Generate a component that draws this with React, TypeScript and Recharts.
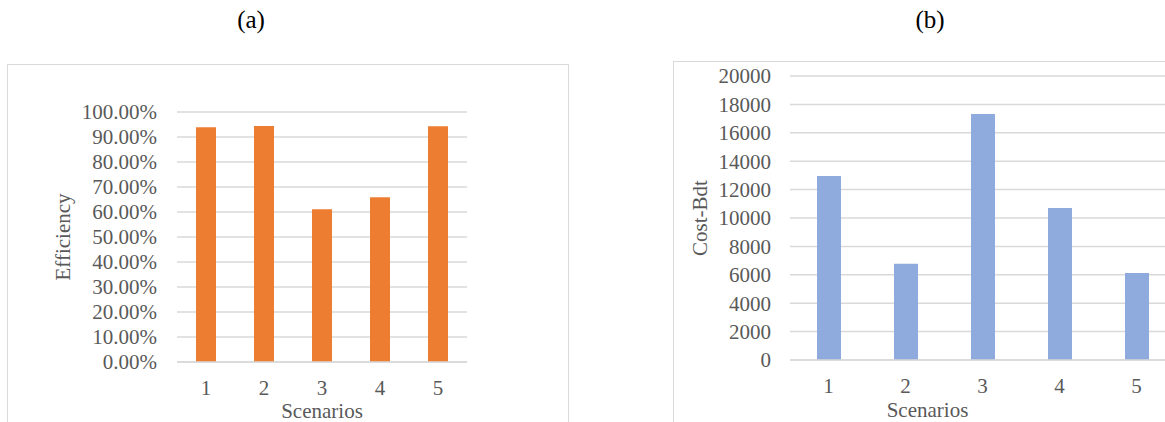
import { BarChart, Bar, XAxis, YAxis, CartesianGrid, Label } from 'recharts';

const scenarios = ['1', '2', '3', '4', '5'];
const efficiency = [0.939, 0.944, 0.611, 0.659, 0.943];
const cost = [12950, 6780, 17330, 10700, 6120];
const efficiencyTicks = [0, 0.1, 0.2, 0.3, 0.4, 0.5, 0.6, 0.7, 0.8, 0.9, 1];
const costTicks = [0, 2000, 4000, 6000, 8000, 10000, 12000, 14000, 16000, 18000, 20000];

const effData = scenarios.map((s, i) => ({ scenario: s, value: efficiency[i] }));
const costData = scenarios.map((s, i) => ({ scenario: s, value: cost[i] }));

const FONT = '"Liberation Serif", "Times New Roman", serif';
const GRID = '#D9D9D9';
const TEXT = '#595959';
const tickStyle = { fontSize: 21, fill: TEXT, fontFamily: FONT };

// axis titles drawn from the axis viewBox so the font sticks
const xTitle = (text: string, dx: number, baseline: number) => (props: any) => {
	const vb = props.viewBox;
	return (
		<text x={vb.x + vb.width / 2 + dx} y={vb.y + vb.height - baseline} textAnchor="middle" style={tickStyle}>
			{text}
		</text>
	);
};

const yTitle = (text: string, dx: number) => (props: any) => {
	const vb = props.viewBox;
	const cx = vb.x + vb.width / 2 + dx;
	const cy = vb.y + vb.height / 2;
	return (
		<text x={cx} y={cy} textAnchor="middle" dominantBaseline="central" transform={`rotate(-90, ${cx}, ${cy})`} style={tickStyle}>
			{text}
		</text>
	);
};

export default function App() {
	return (
		<div style={{ position: 'absolute', left: 0, top: 0, width: 1165, height: 422, overflow: 'hidden', background: '#fff', fontFamily: FONT }}>
			<svg width={1165} height={50} style={{ position: 'absolute', left: 0, top: 0 }}>
				<text x={251} y={28} textAnchor="middle" fontSize={25} fontFamily={FONT} fill="#000">(a)</text>
				<text x={930} y={28} textAnchor="middle" fontSize={25} fontFamily={FONT} fill="#000">(b)</text>
			</svg>

			{/* chart frames */}
			<div style={{ position: 'absolute', left: 7, top: 64, width: 560, height: 400, border: `1.5px solid ${GRID}` }} />
			<div style={{ position: 'absolute', left: 673, top: 61, width: 600, height: 400, border: `1.5px solid ${GRID}` }} />

			<div style={{ position: 'absolute', left: 0, top: 0 }}>
				<BarChart width={580} height={422} data={effData} margin={{ top: 112, right: 113, bottom: 0, left: 97 }}>
					<CartesianGrid vertical={false} stroke={GRID} strokeWidth={1.5} />
					<XAxis dataKey="scenario" height={60} tickLine={false} tickSize={0} tickMargin={18} axisLine={{ stroke: GRID, strokeWidth: 1.5 }} tick={tickStyle}>
						<Label content={xTitle('Scenarios', 0, 4)} />
					</XAxis>
					<YAxis width={80} domain={[0, 1]} ticks={efficiencyTicks} interval={0} axisLine={false} tickLine={false} tickSize={0} tickMargin={20} tick={tickStyle} tickFormatter={(v: number) => (v * 100).toFixed(2) + '%'}>
						<Label content={yTitle('Efficiency', -74)} />
					</YAxis>
					<Bar dataKey="value" fill="#ED7D31" barSize={20} isAnimationActive={false} />
				</BarChart>
			</div>

			<div style={{ position: 'absolute', left: 580, top: 0 }}>
				<BarChart width={600} height={422} data={costData} margin={{ top: 76, right: 5, bottom: 0, left: 130 }}>
					<CartesianGrid vertical={false} stroke={GRID} strokeWidth={1.5} />
					<XAxis dataKey="scenario" height={62} tickLine={false} tickSize={0} tickMargin={18} axisLine={{ stroke: GRID, strokeWidth: 1.5 }} tick={tickStyle}>
						<Label content={xTitle('Scenarios', -55, 5)} />
					</XAxis>
					<YAxis width={80} domain={[0, 20000]} ticks={costTicks} interval={0} axisLine={false} tickLine={false} tickSize={0} tickMargin={19} tick={tickStyle}>
						<Label content={yTitle('Cost-Bdt', -50)} />
					</YAxis>
					<Bar dataKey="value" fill="#8FAADC" barSize={24} isAnimationActive={false} />
				</BarChart>
			</div>
		</div>
	);
}
